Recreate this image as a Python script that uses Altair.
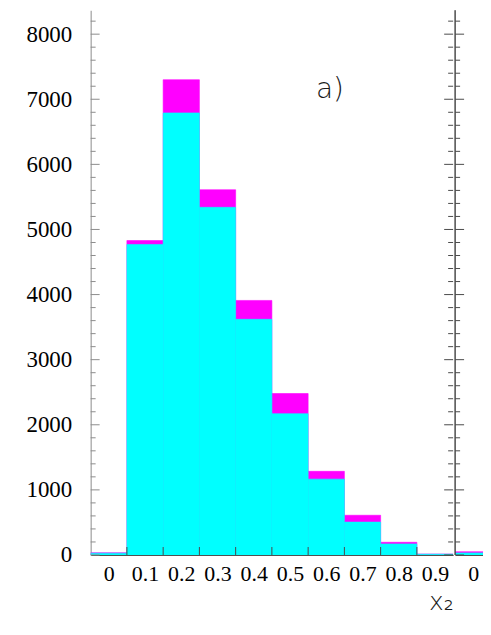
import altair as alt
import pandas as pd

# ---------------- data ----------------
# panel a) : histogram of x2, bins of width 0.1 centred on the labels
bin_centers_a = [0.0, 0.1, 0.2, 0.3, 0.4, 0.5, 0.6, 0.7, 0.8, 0.9]
total_a = [35, 4830, 7300, 5610, 3910, 2480, 1285, 610, 195, 15]   # magenta (top)
cyan_a = [28, 4770, 6790, 5340, 3620, 2170, 1165, 505, 170, 12]    # cyan part

# next panel, only its first bin visible at the right edge
bin_centers_b = [0.0, 0.1]
total_b = [50, 4850]
cyan_b = [32, 4850]

x_label_values = [0.0, 0.1, 0.2, 0.3, 0.4, 0.5, 0.6, 0.7, 0.8, 0.9]
x_edges = [0.05, 0.15, 0.25, 0.35, 0.45, 0.55, 0.65, 0.75, 0.85]
y_major = [0, 1000, 2000, 3000, 4000, 5000, 6000, 7000, 8000]
y_minor = [v for v in range(200, 8400, 200) if v % 1000 != 0]

annot_text = ["a)"]
annot_x = [0.61]
annot_y = [7140]

HALF = 0.05
Y_MAX = 8367
W1, W2, H = 364, 28, 547

MAGENTA = "#ff00ff"
CYAN = "#00ffff"
AX_LIGHT = "#8c8c8c"
AX_DARK = "#4a4a4a"

df_a = pd.DataFrame({"c": bin_centers_a, "total": total_a, "cyan": cyan_a})
df_b = pd.DataFrame({"c": bin_centers_b, "total": total_b, "cyan": cyan_b})
df_major = pd.DataFrame({"v": y_major})
df_minor = pd.DataFrame({"v": y_minor})
df_edges = pd.DataFrame({"e": x_edges})
df_annot = pd.DataFrame({"x": annot_x, "y": annot_y, "t": annot_text})

ys = alt.Scale(domain=[0, Y_MAX], nice=False, zero=False)
xs_a = alt.Scale(domain=[-HALF, 0.9 + HALF], nice=False, zero=False)
xs_b = alt.Scale(domain=[-HALF, -HALF + 0.1 * W2 / 36.4], nice=False, zero=False)

x_axis_a = alt.Axis(
    values=x_label_values, format=".1~f", ticks=False, grid=False,
    labelFont="Liberation Serif", labelFontSize=22, labelColor="black",
    labelPadding=9, labelFlush=False, labelOverlap=False,
    domainColor=AX_DARK, domainWidth=1,
    title="x₂", titleFont="DejaVu Sans", titleFontSize=25, titleFontWeight=300,
    titleColor="#1a1a1a", titleAnchor="end", titlePadding=5,
)
y_axis_a = alt.Axis(
    values=y_major, format="d", ticks=False, grid=False,
    labelFont="Liberation Serif", labelFontSize=23, labelColor="black",
    labelPadding=19, labelFlush=False, labelOverlap=False,
    domainColor=AX_LIGHT, domainWidth=1, title=None,
)
x_axis_b = alt.Axis(
    values=[0.0], format=".1~f", ticks=False, grid=False,
    labelFont="Liberation Serif", labelFontSize=22, labelColor="black",
    labelPadding=9, labelFlush=False, labelOverlap=False,
    domainColor=AX_DARK, domainWidth=1, title=None,
)


def bars(df, xs, field, color, x_axis, y_axis):
    return alt.Chart(df).transform_calculate(
        lo=f"datum.c - {HALF}", hi=f"datum.c + {HALF}"
    ).mark_rect(color=color, clip=True, stroke=color, strokeWidth=0.6).encode(
        x=alt.X("lo:Q", scale=xs, axis=x_axis),
        x2="hi:Q",
        y=alt.Y(f"{field}:Q", scale=ys, axis=y_axis),
        y2=alt.datum(0),
    )


def yticks(df, x0, x1, color, y_axis):
    return alt.Chart(df).mark_rule(color=color, strokeWidth=1).encode(
        y=alt.Y("v:Q", scale=ys, axis=y_axis),
        x=alt.value(x0), x2=alt.value(x1),
    )


def xticks(df, xs, y0, y1, x_axis):
    return alt.Chart(df).mark_rule(color=AX_DARK, strokeWidth=1).encode(
        x=alt.X("e:Q", scale=xs, axis=x_axis),
        y=alt.value(y0), y2=alt.value(y1),
    )


annot = alt.Chart(df_annot).mark_text(
    font="DejaVu Sans", fontSize=28, fontWeight=200, color="#1a1a1a",
    align="center", baseline="middle",
).encode(
    x=alt.X("x:Q", scale=xs_a, axis=x_axis_a),
    y=alt.Y("y:Q", scale=ys, axis=y_axis_a),
    text="t:N",
)

panel_a = alt.layer(
    bars(df_a, xs_a, "total", MAGENTA, x_axis_a, y_axis_a),
    bars(df_a, xs_a, "cyan", CYAN, x_axis_a, y_axis_a),
    yticks(df_major, 0, 9, AX_LIGHT, y_axis_a),
    yticks(df_minor, 0, 5, AX_LIGHT, y_axis_a),
    yticks(df_major, W1 - 9, W1, AX_DARK, y_axis_a),
    yticks(df_minor, W1 - 5, W1, AX_DARK, y_axis_a),
    xticks(df_edges, xs_a, H - 8, H, x_axis_a),
    annot,
).properties(width=W1, height=H)

divider = alt.Chart(df_b).mark_rule(color=AX_DARK, strokeWidth=1).encode(
    x=alt.value(0)
)

panel_b = alt.layer(
    bars(df_b, xs_b, "total", MAGENTA, x_axis_b, None),
    bars(df_b, xs_b, "cyan", CYAN, x_axis_b, None),
    divider,
    yticks(df_major, 0, 9, AX_DARK, None),
    yticks(df_minor, 0, 5, AX_DARK, None),
).properties(width=W2, height=H)

chart = alt.hconcat(panel_a, panel_b, spacing=0).properties(
    padding={"left": 18, "top": 0, "right": 0, "bottom": 0},
    background="white",
).configure_view(stroke=None)

chart.save("out.html", embed_options={"renderer": "svg", "actions": False})
